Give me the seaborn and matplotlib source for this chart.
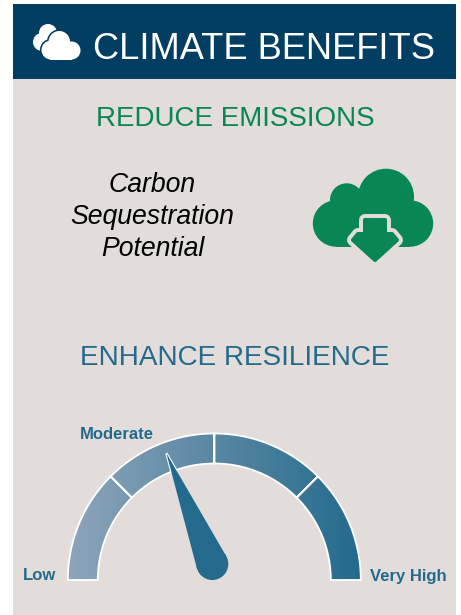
import numpy as np
import matplotlib
matplotlib.use('Agg')
import matplotlib.pyplot as plt
from matplotlib.patches import Circle, Rectangle, PathPatch
from matplotlib.path import Path
import seaborn as sns

# gauge data
gauge_levels = ['Low', 'Moderate', 'High', 'Very High']
gauge_shown = ['Low', 'Moderate', 'Very High']
needle_value = 1.5   # in level units, middle of Moderate

title = 'CLIMATE BENEFITS'
head_1 = 'REDUCE EMISSIONS'
head_2 = 'ENHANCE RESILIENCE'
carbon_lines = ['Carbon', 'Sequestration', 'Potential']

navy = '#023E61'
panel = '#E2DDDB'
green = '#088653'
teal = '#236A8C'
light = '#8EA5BB'

sns.set_theme(style='white')
plt.rcParams['font.family'] = ['Liberation Sans', 'DejaVu Sans']

fig = plt.figure(figsize=(4.61, 6.15), dpi=100)
ax = fig.add_axes([0, 0, 1, 1])
ax.set_xlim(0, 461)
ax.set_ylim(615, 0)
ax.axis('off')

# background
ax.add_patch(Rectangle((13, 79), 443, 536, fc=panel, ec='none', zorder=0))
ax.add_patch(Rectangle((13, 4), 443, 75, fc=navy, ec='none', zorder=1))

# header cloud
def cloud(circles, rect, color, zorder, edge=None, lw=0):
    if edge:
        for x, y, r in circles:
            ax.add_patch(Circle((x, y), r + lw, fc=edge, ec='none', zorder=zorder))
        ax.add_patch(Rectangle((rect[0] - lw, rect[1] - lw), rect[2] + 2 * lw, rect[3] + 2 * lw,
                               fc=edge, ec='none', zorder=zorder))
    for x, y, r in circles:
        ax.add_patch(Circle((x, y), r, fc=color, ec='none', zorder=zorder + 1))
    ax.add_patch(Rectangle(rect[:2], rect[2], rect[3], fc=color, ec='none', zorder=zorder + 1))

cloud([(48, 33, 9), (42, 42, 9), (45, 45, 7)], (42, 40, 8, 8), 'white', 2)
cloud([(59.3, 41.7, 10.7), (51, 50, 9.5), (71.5, 50.5, 9)], (50, 48, 22, 11.5), 'white', 4, edge=navy, lw=1.6)

ax.text(264, 49.5, title, color='white', fontsize=26.1, ha='center', va='center', zorder=6)
ax.text(235, 119, head_1, color=green, fontsize=20, ha='center', va='center')
ax.text(235, 358, head_2, color=teal, fontsize=20.1, ha='center', va='center')

for line, y in zip(carbon_lines, [185, 217, 249]):
    ax.text(152.5, y, line, color='black', fontsize=19.2, style='italic', ha='center', va='center')

# green cloud with arrow
cloud([(386, 196.7, 28), (346.7, 200, 16.7), (336, 223.5, 23.2), (410, 223.5, 23.2)],
      (336, 205, 74, 41.7), green, 2)
arrow_pts = [(365, 220), (385, 220), (385, 234), (392, 234), (397, 240), (375, 260),
             (353, 240), (358, 234), (365, 234)]
ax.fill(*zip(*arrow_pts), fc=panel, ec=panel, lw=8.6, joinstyle='round', zorder=4)
ax.fill(*zip(*arrow_pts), fc=green, ec=green, lw=2.9, joinstyle='round', zorder=5)

# gauge
cx, cy = 214.3, 580
r_out, r_in = 146.5, 116.5
n = len(gauge_levels)

def angle(v):
    return np.pi * (1 - v / n)

verts, codes = [], []
for i in range(n):
    t = np.linspace(angle(i), angle(i + 1), 60)
    xs = np.r_[cx + r_out * np.cos(t), cx + r_in * np.cos(t[::-1])]
    ys = np.r_[cy - r_out * np.sin(t), cy - r_in * np.sin(t[::-1])]
    seg = list(zip(xs, ys))
    verts += seg + [seg[0]]
    codes += [Path.MOVETO] + [Path.LINETO] * (len(seg) - 1) + [Path.CLOSEPOLY]
gauge_path = Path(verts, codes)

cmap = sns.blend_palette([light, teal], as_cmap=True)
im = ax.imshow(np.linspace(0, 1, 256).reshape(1, -1), cmap=cmap, aspect='auto',
               extent=(cx - r_out, cx + r_out, cy, cy - r_out), zorder=2)
im.set_clip_path(PathPatch(gauge_path, transform=ax.transData))
ax.add_patch(PathPatch(gauge_path, fc='none', ec='white', lw=1.3, zorder=3))
ax.set_xlim(0, 461)
ax.set_ylim(615, 0)

# needle
nx, ny, nr, nlen = 212.3, 564, 16, 120
a = angle(needle_value)
tip = (nx + nlen * np.cos(a), ny - nlen * np.sin(a))
off = np.arcsin(nr / nlen)
tl = np.sqrt(nlen ** 2 - nr ** 2)
p1 = (tip[0] + tl * np.cos(a + np.pi - off), tip[1] - tl * np.sin(a + np.pi - off))
p2 = (tip[0] + tl * np.cos(a + np.pi + off), tip[1] - tl * np.sin(a + np.pi + off))
# white edge only shows over the gauge band
edge, = ax.plot([p1[0], tip[0], p2[0]], [p1[1], tip[1], p2[1]], color='white', lw=1.6,
                zorder=4, solid_joinstyle='miter')
edge.set_clip_path(PathPatch(gauge_path, transform=ax.transData))
ax.add_patch(Circle((nx, ny), nr, fc=teal, ec='none', zorder=5))
ax.fill([tip[0], p1[0], p2[0]], [tip[1], p1[1], p2[1]], fc=teal, ec='none', zorder=5)

# level labels
label_pos = {'Low': (39, 576), 'Moderate': (116.5, 434.5), 'Very High': (408, 576)}
for name in gauge_shown:
    ax.text(*label_pos[name], name, color=teal, fontsize=12, fontweight='bold', ha='center', va='center')

fig.savefig('out.png', dpi=100)
